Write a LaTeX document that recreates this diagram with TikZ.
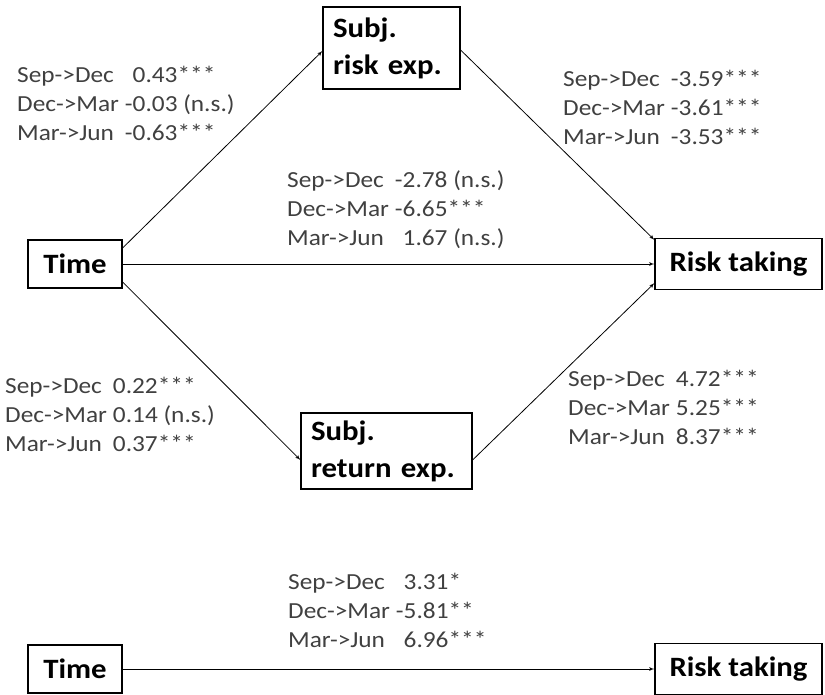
\documentclass[tikz,border=0pt]{standalone}
\usepackage{fontspec}
\setmainfont{Carlito}
\newfontfamily\lblfont[FakeStretch=1.1]{Carlito}
\usetikzlibrary{arrows}
\tikzset{
	varnode/.style = {rectangle, draw=black, line width=1.2pt, inner sep=0pt, align=left, font=\lblfont\bfseries\fontsize{28}{37}\selectfont},
	textbox/.style = {varnode, text width=#1, inner xsep=10pt},
	coef/.style = {inner sep=0pt, anchor=west, text=black!75, font=\lblfont\fontsize{23}{29}\selectfont},
	line/.style = {draw, line width=0.8pt, -latex'}
}

\begin{document}
\begin{tikzpicture}[x=1pt, y=-1pt]
	\useasboundingbox (0,0) rectangle (825,694);
	\clip (0,0) rectangle (825,694);

	%variables
	\node (time) [varnode, minimum width=94pt, minimum height=48pt] at (75,264) {Time};
	\node (riskexp) [textbox=117pt, minimum height=82pt] at (391.5,48) {Subj.\\risk exp.};
	\node (retexp) [textbox=151pt, minimum height=76pt] at (386.5,451) {Subj.\\return exp.};
	\node (risk) [varnode, minimum width=167pt, minimum height=51pt] at (738.5,264) {Risk taking};
	\node (btime) [varnode, minimum width=94pt, minimum height=48pt] at (75,669) {Time};
	\node (brisk) [varnode, minimum width=167pt, minimum height=51pt] at (738.5,669) {Risk taking};

	%coefficients
	\node (coeftimeriskexp) [coef] at (17,106) {\begin{tabular}{@{}l@{\hspace{6pt}}l@{}}
		Sep->Dec & \phantom{-}0.43***\\ Dec->Mar & -0.03 (n.s.)\\ Mar->Jun & -0.63***\end{tabular}};
	\node (coeftimerisk) [coef] at (287,211) {\begin{tabular}{@{}l@{\hspace{6pt}}l@{}}
		Sep->Dec & -2.78 (n.s.)\\ Dec->Mar & -6.65***\\ Mar->Jun & \phantom{-}1.67 (n.s.)\end{tabular}};
	\node (coefriskexprisk) [coef] at (563,110) {\begin{tabular}{@{}l@{\hspace{6pt}}l@{}}
		Sep->Dec & -3.59***\\ Dec->Mar & -3.61***\\ Mar->Jun & -3.53***\end{tabular}};
	\node (coeftimeretexp) [coef] at (5,417) {\begin{tabular}{@{}l@{\hspace{6pt}}l@{}}
		Sep->Dec & 0.22***\\ Dec->Mar & 0.14 (n.s.)\\ Mar->Jun & 0.37***\end{tabular}};
	\node (coefretexprisk) [coef] at (568,410) {\begin{tabular}{@{}l@{\hspace{6pt}}l@{}}
		Sep->Dec & 4.72***\\ Dec->Mar & 5.25***\\ Mar->Jun & 8.37***\end{tabular}};
	\node (coeftotal) [coef] at (288,613) {\begin{tabular}{@{}l@{\hspace{6pt}}l@{}}
		Sep->Dec & \phantom{-}3.31*\\ Dec->Mar & -5.81**\\ Mar->Jun & \phantom{-}6.96***\end{tabular}};

	%paths
	\path [line] ([yshift=16pt]time.east) -- ([yshift=-3pt]riskexp.west);
	\path [line] ([yshift=-2pt]riskexp.east) -- ([yshift=-2pt]risk.north west);
	\path [line] (time) -- (risk);
	\path [line] ([yshift=-18pt]time.east) -- ([yshift=-9pt]retexp.west);
	\path [line] ([yshift=-9pt]retexp.east) -- ([yshift=7pt]risk.south west);
	\path [line] (btime) -- (brisk);
\end{tikzpicture}
\end{document}
